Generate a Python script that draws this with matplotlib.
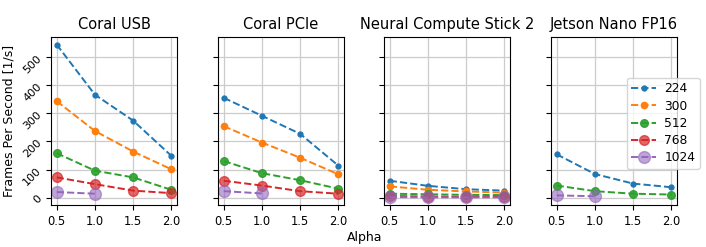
import numpy as np
import matplotlib
matplotlib.use("Agg")
import matplotlib.pyplot as plt

nan = np.nan
alphas = [0.5, 1.0, 1.5, 2.0]
sizes = ["224", "300", "512", "768", "1024"]
devices = ["Coral USB", "Coral PCIe", "Neural Compute Stick 2", "Jetson Nano FP16"]

# frames per second, one row per input size
coral_usb = [
    [544, 366, 274, 149],
    [343, 237, 164, 101],
    [158, 96, 72, 28],
    [72, 48, 25, 16],
    [20, 14, nan, nan],
]
coral_pcie = [
    [355, 291, 227, 114],
    [254, 196, 142, 83],
    [130, 87, 62, 32],
    [60, 43, 23, 14],
    [23, 15, nan, nan],
]
ncs2 = [
    [60, 42, 30, 25],
    [40, 28, 22, 18],
    [14, 12, 10, 9],
    [6, 4, 3, 3],
    [2, 1, 1, 1],
]
jetson = [
    [154, 84, 50, 37],
    [nan, nan, nan, nan],
    [43, 23, 14, 11],
    [nan, nan, nan, nan],
    [8, 5, nan, nan],
]
all_data = [coral_usb, coral_pcie, ncs2, jetson]

colors = ["#1f77b4", "#ff7f0e", "#2ca02c", "#d62728", "#9467bd"]
msizes = [3.5, 4.5, 5.5, 7, 8.5]
malpha = [1.0, 1.0, 0.9, 0.7, 0.6]

fig = plt.figure(figsize=(7.06, 2.47), dpi=100)
lefts = [51, 218, 384, 551]
axes = []
for i, dev in enumerate(devices):
    ax = fig.add_axes([lefts[i] / 706, 1 - 205 / 247, 126 / 706, 168 / 247],
                      sharey=axes[0] if axes else None)
    axes.append(ax)
    for j, s in enumerate(sizes):
        mfc = matplotlib.colors.to_rgba(colors[j], malpha[j])
        ax.plot(alphas, all_data[i][j], "--o", color=colors[j], ms=msizes[j],
                mfc=mfc, mec=mfc, lw=1.4, label=s)
    ax.set_title(dev, fontsize=10.5)
    ax.grid(True, color="#cccccc", lw=0.9)
    ax.set_xticks(alphas)
    ax.tick_params(labelsize=8.3)
    if i == 0:
        ax.set_ylabel("Frames Per Second [1/s]", fontsize=9)
        ax.yaxis.set_label_coords((16 - 51) / 126, 0.5)
        ax.set_yticks([0, 100, 200, 300, 400, 500])
        ax.tick_params(axis="y", labelsize=8, pad=2)
        plt.setp(ax.get_yticklabels(), rotation=45)
    else:
        ax.tick_params(labelleft=False)

fig.text(365 / 706, 1 - 237 / 247, "Alpha", ha="center", va="center", fontsize=9)
handles, labels = axes[0].get_legend_handles_labels()
fig.legend(handles, labels, loc="upper left", bbox_to_anchor=(627 / 706, 1 - 78 / 247),
           borderaxespad=0, fontsize=8.8, labelspacing=0.35, handletextpad=0.7,
           borderpad=0.35)
fig.savefig("out.png", dpi=100)
